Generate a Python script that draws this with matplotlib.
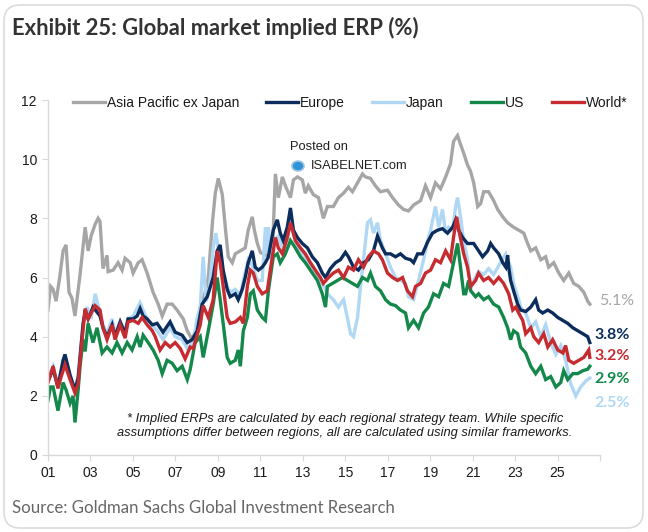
import matplotlib
matplotlib.use("Agg")
import matplotlib.pyplot as plt
from matplotlib.patches import FancyBboxPatch, Circle

# Implied ERP (%), (decimal year, value)
asia = [(2001.00, 4.9), (2001.12, 5.7), (2001.24, 5.6), (2001.38, 5.2), (2001.55, 6.0), (2001.71, 6.9),
        (2001.85, 7.1), (2001.99, 5.5), (2002.13, 5.3), (2002.27, 4.7), (2002.51, 6.1), (2002.75, 7.7),
        (2002.89, 6.9), (2003.03, 7.4), (2003.22, 7.8), (2003.36, 8.0), (2003.45, 7.9), (2003.59, 6.3),
        (2003.78, 6.75), (2003.83, 6.2), (2004.07, 6.25), (2004.30, 6.5), (2004.49, 6.25), (2004.63, 6.65),
        (2004.87, 6.5), (2005.01, 6.15), (2005.25, 6.5), (2005.43, 6.6), (2005.67, 6.15), (2005.95, 5.5),
        (2006.19, 5.1), (2006.38, 4.7), (2006.61, 5.1), (2006.85, 5.1), (2007.08, 4.9), (2007.37, 4.6),
        (2007.56, 4.2), (2007.79, 3.9), (2008.00, 4.3), (2008.17, 5.0), (2008.40, 5.5), (2008.55, 6.0),
        (2008.75, 7.9), (2008.88, 8.85), (2009.02, 9.35), (2009.21, 8.8), (2009.35, 7.7), (2009.49, 6.7),
        (2009.68, 6.5), (2009.82, 6.8), (2010.06, 6.9), (2010.29, 7.0), (2010.43, 7.6), (2010.62, 8.05),
        (2010.72, 7.6), (2010.86, 7.15), (2011.00, 6.85), (2011.24, 6.75), (2011.57, 6.8), (2011.71, 9.5),
        (2011.85, 8.7), (2012.04, 9.4), (2012.18, 9.1), (2012.42, 8.7), (2012.56, 9.3), (2012.75, 9.4),
        (2012.98, 9.3), (2013.12, 8.85), (2013.26, 9.1), (2013.50, 8.8), (2013.74, 8.7), (2013.97, 8.0),
        (2014.16, 8.4), (2014.44, 8.4), (2014.68, 8.7), (2014.92, 8.85), (2015.15, 9.05), (2015.34, 8.9),
        (2015.58, 9.2), (2015.81, 9.5), (2015.95, 9.4), (2016.19, 9.35), (2016.42, 9.1), (2016.66, 8.9),
        (2016.99, 8.95), (2017.23, 8.7), (2017.51, 8.45), (2017.75, 8.3), (2017.98, 8.25), (2018.22, 8.45),
        (2018.55, 8.6), (2018.78, 9.1), (2019.02, 8.7), (2019.25, 9.2), (2019.49, 9.0), (2019.73, 9.4),
        (2019.96, 9.85), (2020.10, 10.6), (2020.29, 10.8), (2020.43, 10.5), (2020.58, 10.2), (2020.76, 9.8),
        (2020.90, 9.6), (2021.05, 9.2), (2021.24, 8.4), (2021.38, 8.5), (2021.52, 8.9), (2021.75, 8.9),
        (2021.99, 8.6), (2022.18, 8.3), (2022.42, 8.05), (2022.65, 7.85), (2022.93, 7.7), (2023.17, 7.6),
        (2023.41, 7.5), (2023.59, 7.15), (2023.74, 6.9), (2023.97, 7.0), (2024.21, 6.6), (2024.44, 6.7),
        (2024.58, 6.35), (2024.82, 6.5), (2025.06, 6.15), (2025.29, 5.9), (2025.53, 6.15), (2025.76, 5.8),
        (2026.00, 5.7), (2026.24, 5.5), (2026.42, 5.2), (2026.52, 5.1)]

europe = [(2001.00, 2.5), (2001.24, 2.9), (2001.47, 2.3), (2001.71, 3.2), (2001.80, 3.4), (2002.04, 2.7),
          (2002.27, 2.2), (2002.42, 2.6), (2002.65, 4.4), (2002.75, 4.9), (2002.89, 4.6), (2003.12, 5.0),
          (2003.45, 4.7), (2003.59, 4.3), (2003.78, 4.0), (2004.02, 4.4), (2004.16, 4.0), (2004.40, 4.5),
          (2004.63, 4.1), (2004.77, 4.6), (2005.01, 4.6), (2005.20, 4.7), (2005.34, 4.95), (2005.48, 4.7),
          (2005.67, 4.6), (2005.91, 4.4), (2006.14, 4.45), (2006.42, 4.15), (2006.75, 4.5), (2006.99, 4.15),
          (2007.32, 4.05), (2007.56, 3.8), (2007.79, 3.9), (2008.03, 4.2), (2008.26, 5.1), (2008.50, 5.35),
          (2008.78, 6.0), (2008.97, 6.9), (2009.11, 7.1), (2009.25, 6.25), (2009.44, 5.6), (2009.58, 5.35),
          (2009.82, 5.45), (2009.96, 5.25), (2010.15, 5.6), (2010.29, 6.0), (2010.43, 6.5), (2010.62, 6.9),
          (2010.76, 6.35), (2010.91, 6.25), (2011.09, 6.35), (2011.24, 6.5), (2011.38, 6.7), (2011.61, 7.6),
          (2011.80, 7.95), (2011.94, 7.5), (2012.08, 7.25), (2012.27, 7.7), (2012.42, 8.35), (2012.56, 7.6),
          (2012.75, 7.35), (2012.98, 7.15), (2013.22, 7.0), (2013.45, 6.7), (2013.69, 6.5), (2013.92, 6.15),
          (2014.07, 6.0), (2014.30, 6.3), (2014.54, 6.5), (2014.77, 6.6), (2015.01, 6.85), (2015.15, 6.7),
          (2015.39, 6.35), (2015.62, 6.25), (2015.86, 6.5), (2016.09, 6.6), (2016.33, 6.9), (2016.52, 7.4),
          (2016.75, 7.0), (2016.90, 6.8), (2017.13, 6.8), (2017.37, 6.7), (2017.60, 6.8), (2017.84, 6.65),
          (2018.08, 6.6), (2018.22, 6.5), (2018.41, 6.8), (2018.64, 6.8), (2018.88, 7.2), (2019.11, 7.5),
          (2019.35, 7.6), (2019.58, 7.65), (2019.82, 7.5), (2020.06, 7.7), (2020.20, 7.95), (2020.34, 7.6),
          (2020.53, 7.35), (2020.76, 7.15), (2021.05, 7.15), (2021.28, 6.9), (2021.47, 6.7), (2021.71, 6.9),
          (2021.85, 7.15), (2021.99, 7.0), (2022.23, 6.8), (2022.42, 6.5), (2022.56, 6.35), (2022.65, 6.75),
          (2022.70, 6.35), (2022.79, 5.9), (2022.93, 5.55), (2023.12, 5.1), (2023.26, 4.9), (2023.50, 4.85),
          (2023.74, 5.0), (2023.97, 5.25), (2024.11, 4.9), (2024.30, 4.8), (2024.54, 4.9), (2024.77, 4.8),
          (2025.01, 4.65), (2025.25, 4.55), (2025.48, 4.45), (2025.72, 4.3), (2025.95, 4.2), (2026.19, 4.1),
          (2026.42, 4.0), (2026.52, 3.8)]

japan = [(2001.00, 2.6), (2001.24, 3.0), (2001.47, 2.4), (2001.71, 3.2), (2001.80, 3.3), (2002.04, 2.6),
         (2002.27, 2.2), (2002.42, 2.7), (2002.65, 4.5), (2002.84, 5.0), (2003.03, 4.6), (2003.22, 5.45),
         (2003.45, 4.8), (2003.59, 4.4), (2003.78, 4.1), (2004.02, 4.6), (2004.16, 4.1), (2004.40, 4.5),
         (2004.63, 4.2), (2004.77, 4.6), (2005.01, 4.7), (2005.34, 5.15), (2005.48, 4.9), (2005.67, 4.6),
         (2005.91, 4.4), (2006.14, 4.2), (2006.42, 3.9), (2006.75, 4.3), (2006.99, 4.0), (2007.32, 3.9),
         (2007.56, 3.6), (2007.84, 3.8), (2008.03, 4.65), (2008.17, 5.0), (2008.31, 6.7), (2008.45, 5.2),
         (2008.60, 5.6), (2008.78, 7.0), (2008.90, 7.5), (2009.02, 7.0), (2009.25, 6.2), (2009.44, 5.7),
         (2009.58, 5.5), (2009.82, 5.6), (2010.06, 5.4), (2010.20, 5.9), (2010.43, 6.6), (2010.62, 6.4),
         (2010.86, 5.9), (2011.09, 5.9), (2011.24, 7.7), (2011.33, 6.8), (2011.38, 7.7), (2011.50, 6.6),
         (2011.71, 7.3), (2011.85, 7.4), (2012.04, 7.0), (2012.27, 7.3), (2012.42, 7.9), (2012.65, 7.2),
         (2012.89, 6.9), (2013.12, 6.6), (2013.36, 6.4), (2013.59, 6.2), (2013.83, 5.9), (2014.07, 5.6),
         (2014.16, 5.45), (2014.44, 5.25), (2014.68, 5.0), (2014.92, 5.25), (2015.10, 4.65), (2015.25, 4.1),
         (2015.39, 4.0), (2015.58, 4.65), (2015.72, 5.7), (2015.86, 6.6), (2016.05, 7.85), (2016.19, 7.95),
         (2016.33, 7.5), (2016.52, 7.85), (2016.66, 7.25), (2016.90, 6.8), (2017.13, 6.35), (2017.37, 6.0),
         (2017.60, 5.9), (2017.84, 5.8), (2017.98, 5.35), (2018.22, 5.25), (2018.45, 5.9), (2018.69, 6.6),
         (2018.88, 7.25), (2019.02, 7.6), (2019.25, 8.4), (2019.40, 7.7), (2019.58, 8.3), (2019.73, 7.5),
         (2019.87, 7.7), (2020.06, 7.6), (2020.20, 8.4), (2020.29, 8.7), (2020.43, 8.05), (2020.58, 7.25),
         (2020.76, 6.6), (2020.91, 5.6), (2021.05, 5.9), (2021.28, 6.2), (2021.52, 6.1), (2021.75, 6.3),
         (2021.99, 6.1), (2022.23, 6.4), (2022.56, 6.8), (2022.79, 6.35), (2022.93, 5.8), (2023.17, 5.25),
         (2023.26, 5.0), (2023.50, 4.8), (2023.74, 4.3), (2023.97, 4.5), (2024.21, 4.0), (2024.44, 4.4),
         (2024.68, 3.8), (2024.92, 3.4), (2025.15, 3.7), (2025.38, 3.2), (2025.62, 2.4), (2025.86, 2.0),
         (2026.09, 2.3), (2026.33, 2.5), (2026.52, 2.6)]

us = [(2001.00, 1.85), (2001.12, 2.3), (2001.24, 2.3), (2001.47, 1.5), (2001.71, 2.45), (2001.85, 2.2),
      (2002.04, 1.75), (2002.18, 2.0), (2002.27, 1.1), (2002.42, 2.2), (2002.51, 3.0), (2002.65, 3.9),
      (2002.75, 3.5), (2002.89, 4.45), (2003.12, 3.8), (2003.31, 4.3), (2003.55, 3.45), (2003.78, 3.65),
      (2004.02, 3.45), (2004.25, 3.8), (2004.49, 3.45), (2004.73, 3.8), (2004.96, 3.55), (2005.20, 4.0),
      (2005.34, 3.65), (2005.48, 4.05), (2005.72, 3.8), (2005.95, 3.55), (2006.19, 3.2), (2006.38, 2.75),
      (2006.61, 3.2), (2006.85, 3.1), (2007.08, 2.85), (2007.32, 3.0), (2007.56, 2.55), (2007.70, 2.9),
      (2007.93, 3.8), (2008.17, 4.0), (2008.31, 3.3), (2008.55, 4.2), (2008.78, 5.1), (2008.97, 6.0),
      (2009.11, 5.25), (2009.25, 4.45), (2009.44, 3.3), (2009.58, 3.1), (2009.82, 3.2), (2009.96, 3.55),
      (2010.06, 3.0), (2010.20, 4.2), (2010.39, 4.65), (2010.53, 5.45), (2010.67, 5.55), (2010.86, 4.9),
      (2011.09, 4.65), (2011.24, 4.55), (2011.38, 5.55), (2011.61, 6.7), (2011.80, 6.8), (2011.94, 6.5),
      (2012.18, 6.8), (2012.42, 7.25), (2012.65, 7.0), (2012.89, 6.7), (2013.12, 6.5), (2013.36, 6.25),
      (2013.69, 5.9), (2013.92, 5.45), (2014.07, 5.0), (2014.16, 5.7), (2014.40, 5.8), (2014.63, 5.9),
      (2014.87, 6.0), (2015.10, 5.9), (2015.34, 5.8), (2015.58, 5.7), (2015.81, 6.0), (2016.05, 5.9),
      (2016.19, 6.15), (2016.42, 5.7), (2016.66, 5.55), (2016.90, 5.25), (2017.13, 5.1), (2017.37, 5.05),
      (2017.60, 4.9), (2017.84, 4.8), (2017.98, 4.3), (2018.22, 4.55), (2018.45, 4.3), (2018.69, 4.8),
      (2018.92, 5.0), (2019.16, 5.45), (2019.40, 5.35), (2019.63, 5.8), (2019.87, 5.7), (2020.10, 6.5),
      (2020.29, 7.15), (2020.43, 6.35), (2020.58, 5.45), (2020.67, 5.45), (2020.81, 5.9), (2020.91, 5.55),
      (2021.14, 5.35), (2021.28, 5.45), (2021.52, 5.25), (2021.75, 5.35), (2021.99, 5.1), (2022.23, 5.0),
      (2022.46, 4.65), (2022.65, 4.3), (2022.79, 3.9), (2022.93, 4.2), (2023.12, 4.1), (2023.26, 3.65),
      (2023.50, 3.45), (2023.74, 3.0), (2023.97, 2.75), (2024.21, 3.0), (2024.44, 2.55), (2024.68, 2.65),
      (2024.92, 2.3), (2025.15, 2.45), (2025.29, 2.85), (2025.48, 2.55), (2025.72, 2.75), (2025.95, 2.75),
      (2026.19, 2.85), (2026.42, 2.9), (2026.52, 3.0)]

world = [(2001.00, 2.45), (2001.24, 3.0), (2001.47, 2.25), (2001.60, 2.6), (2001.80, 3.05), (2002.04, 2.55),
         (2002.27, 2.1), (2002.42, 2.4), (2002.51, 3.2), (2002.75, 4.95), (2002.89, 4.6), (2003.22, 5.05),
         (2003.45, 4.9), (2003.59, 4.3), (2003.78, 3.9), (2004.02, 4.4), (2004.16, 3.9), (2004.40, 4.4),
         (2004.63, 3.95), (2004.77, 4.5), (2005.01, 4.55), (2005.25, 4.45), (2005.43, 4.65), (2005.67, 4.4),
         (2005.91, 4.2), (2006.05, 4.0), (2006.28, 3.55), (2006.52, 3.8), (2006.75, 3.65), (2006.99, 3.8),
         (2007.23, 3.6), (2007.46, 3.25), (2007.70, 3.65), (2007.84, 3.6), (2008.17, 4.4), (2008.31, 5.05),
         (2008.55, 4.65), (2008.78, 5.25), (2008.97, 6.9), (2009.11, 6.5), (2009.25, 5.7), (2009.44, 4.65),
         (2009.58, 4.45), (2009.82, 4.5), (2010.06, 4.65), (2010.20, 4.45), (2010.39, 5.7), (2010.53, 6.25),
         (2010.67, 6.15), (2010.86, 5.7), (2011.09, 5.45), (2011.33, 5.55), (2011.47, 6.25), (2011.71, 7.35),
         (2011.85, 7.0), (2012.04, 6.8), (2012.27, 7.35), (2012.42, 7.85), (2012.65, 7.25), (2012.89, 7.0),
         (2013.12, 6.8), (2013.36, 6.5), (2013.59, 6.25), (2013.83, 6.0), (2013.97, 5.8), (2014.21, 6.0),
         (2014.44, 6.15), (2014.68, 6.25), (2014.92, 6.0), (2015.15, 6.35), (2015.39, 6.25), (2015.62, 6.6),
         (2015.86, 6.35), (2016.09, 6.7), (2016.33, 6.9), (2016.57, 6.8), (2016.75, 6.6), (2016.99, 6.15),
         (2017.23, 6.0), (2017.46, 5.9), (2017.70, 6.0), (2017.93, 5.55), (2018.17, 5.35), (2018.31, 5.7),
         (2018.55, 5.8), (2018.78, 6.15), (2019.02, 6.25), (2019.25, 6.6), (2019.49, 6.5), (2019.73, 6.9),
         (2019.96, 6.6), (2020.10, 7.35), (2020.25, 8.05), (2020.38, 7.5), (2020.58, 6.8), (2020.76, 6.35),
         (2020.91, 5.7), (2021.14, 5.9), (2021.28, 6.15), (2021.52, 5.9), (2021.75, 6.0), (2021.99, 5.8),
         (2022.23, 6.0), (2022.46, 5.8), (2022.70, 5.45), (2022.89, 4.9), (2023.03, 5.0), (2023.17, 4.8),
         (2023.36, 4.55), (2023.50, 4.1), (2023.74, 4.3), (2023.88, 4.0), (2024.11, 3.8), (2024.35, 4.1),
         (2024.54, 3.65), (2024.77, 3.9), (2025.01, 3.55), (2025.25, 3.45), (2025.38, 3.7), (2025.53, 3.2),
         (2025.76, 3.1), (2026.00, 3.2), (2026.24, 3.3), (2026.47, 3.55), (2026.52, 3.3)]

series_names = ["Asia Pacific ex Japan", "Europe", "Japan", "US", "World*"]
latest_labels = ["5.1%", "3.8%", "3.2%", "2.9%", "2.5%"]
tick_years = list(range(2001, 2028, 2))
tick_labels = ["01", "03", "05", "07", "09", "11", "13", "15", "17", "19", "21", "23", "25", ""]

title = "Exhibit 25: Global market implied ERP (%)"
source = "Source: Goldman Sachs Global Investment Research"
note = ("* Implied ERPs are calculated by each regional strategy team. While specific\n"
        "assumptions differ between regions, all are calculated using similar frameworks.")

GRAY = "#a6a6a6"
NAVY = "#0c2d5c"
LBLUE = "#b0d8f4"
GREEN = "#13884a"
RED = "#c62b30"

plt.rcParams["font.family"] = ["Liberation Sans", "DejaVu Sans"]

fig = plt.figure(figsize=(6.48, 5.32), dpi=100)
W, H = 648, 532
ax = fig.add_axes([48 / W, 77 / H, 552 / W, 355 / H])

lw = 2.4
lines = {}
for name, data, col in [("Asia Pacific ex Japan", asia, GRAY), ("Japan", japan, LBLUE),
                        ("Europe", europe, NAVY), ("US", us, GREEN), ("World*", world, RED)]:
    xs, ys = zip(*data)
    lines[name], = ax.plot(xs, ys, color=col, lw=lw, solid_joinstyle="miter")

ax.set_xlim(2001, 2027)
ax.set_ylim(0, 12)
ax.set_xticks(tick_years)
ax.set_xticklabels(tick_labels)
ax.set_yticks(range(0, 13, 2))
for s in ["top", "right"]:
    ax.spines[s].set_visible(False)
for s in ["left", "bottom"]:
    ax.spines[s].set_color("#d9d9d9")
    ax.spines[s].set_linewidth(1)
ax.tick_params(axis="both", direction="out", length=4, color="#d9d9d9",
               labelsize=10, labelcolor="#1a1a1a", pad=4)

fig.legend([lines[n] for n in series_names], series_names, loc="center",
           bbox_to_anchor=(350 / W, (H - 103) / H), ncol=5, frameon=False,
           handlelength=2.3, handletextpad=0.15, columnspacing=1.95, fontsize=10,
           labelcolor="#1a1a1a")

# end-of-series labels
label_style = [(2026.95, 5.2, GRAY, "normal"), (2026.72, 4.05, NAVY, "bold"),
               (2026.72, 3.35, RED, "bold"), (2026.72, 2.57, GREEN, "bold"),
               (2026.72, 1.76, LBLUE, "bold")]
for txt, (lx, ly, col, wt) in zip(latest_labels, label_style):
    ax.text(lx, ly, txt, color=col, fontsize=11.5, fontweight=wt, ha="left", va="center",
            clip_on=False, family=["Lato", "DejaVu Sans"])

fig.text(345 / W, (H - 426) / H, note, ha="center", va="center", style="italic",
         fontsize=9.3, color="#1a1a1a", linespacing=1.15)

# watermark
fig.text(290 / W, (H - 147) / H, "Posted on", fontsize=9.3, va="center", color="#222222")
fig.text(311 / W, (H - 166) / H, "ISABELNET.com", fontsize=9.3, va="center", color="#222222")
fig.patches.append(Circle((298 / W, (H - 166) / H), 6 / W, transform=fig.transFigure,
                          facecolor="#2f93d6", edgecolor="#9cc3df", lw=1.2))

fig.text(12 / W, (H - 28) / H, title, fontsize=15.8, fontweight="bold", va="center",
         color="#333333", family=["Lato", "DejaVu Sans"])
fig.text(12 / W, (H - 508) / H, source, fontsize=12.1, va="center",
         color="#666666", family=["Lato", "DejaVu Sans"])

fig.patches.append(FancyBboxPatch((4 / W, 4 / H), 639 / W, 523 / H,
                                  boxstyle="round,pad=0,rounding_size=0.025",
                                  mutation_aspect=W / H, transform=fig.transFigure,
                                  fill=False, edgecolor="#dcdcdc", lw=1.2))

fig.savefig("out.png", dpi=100, facecolor="white")
